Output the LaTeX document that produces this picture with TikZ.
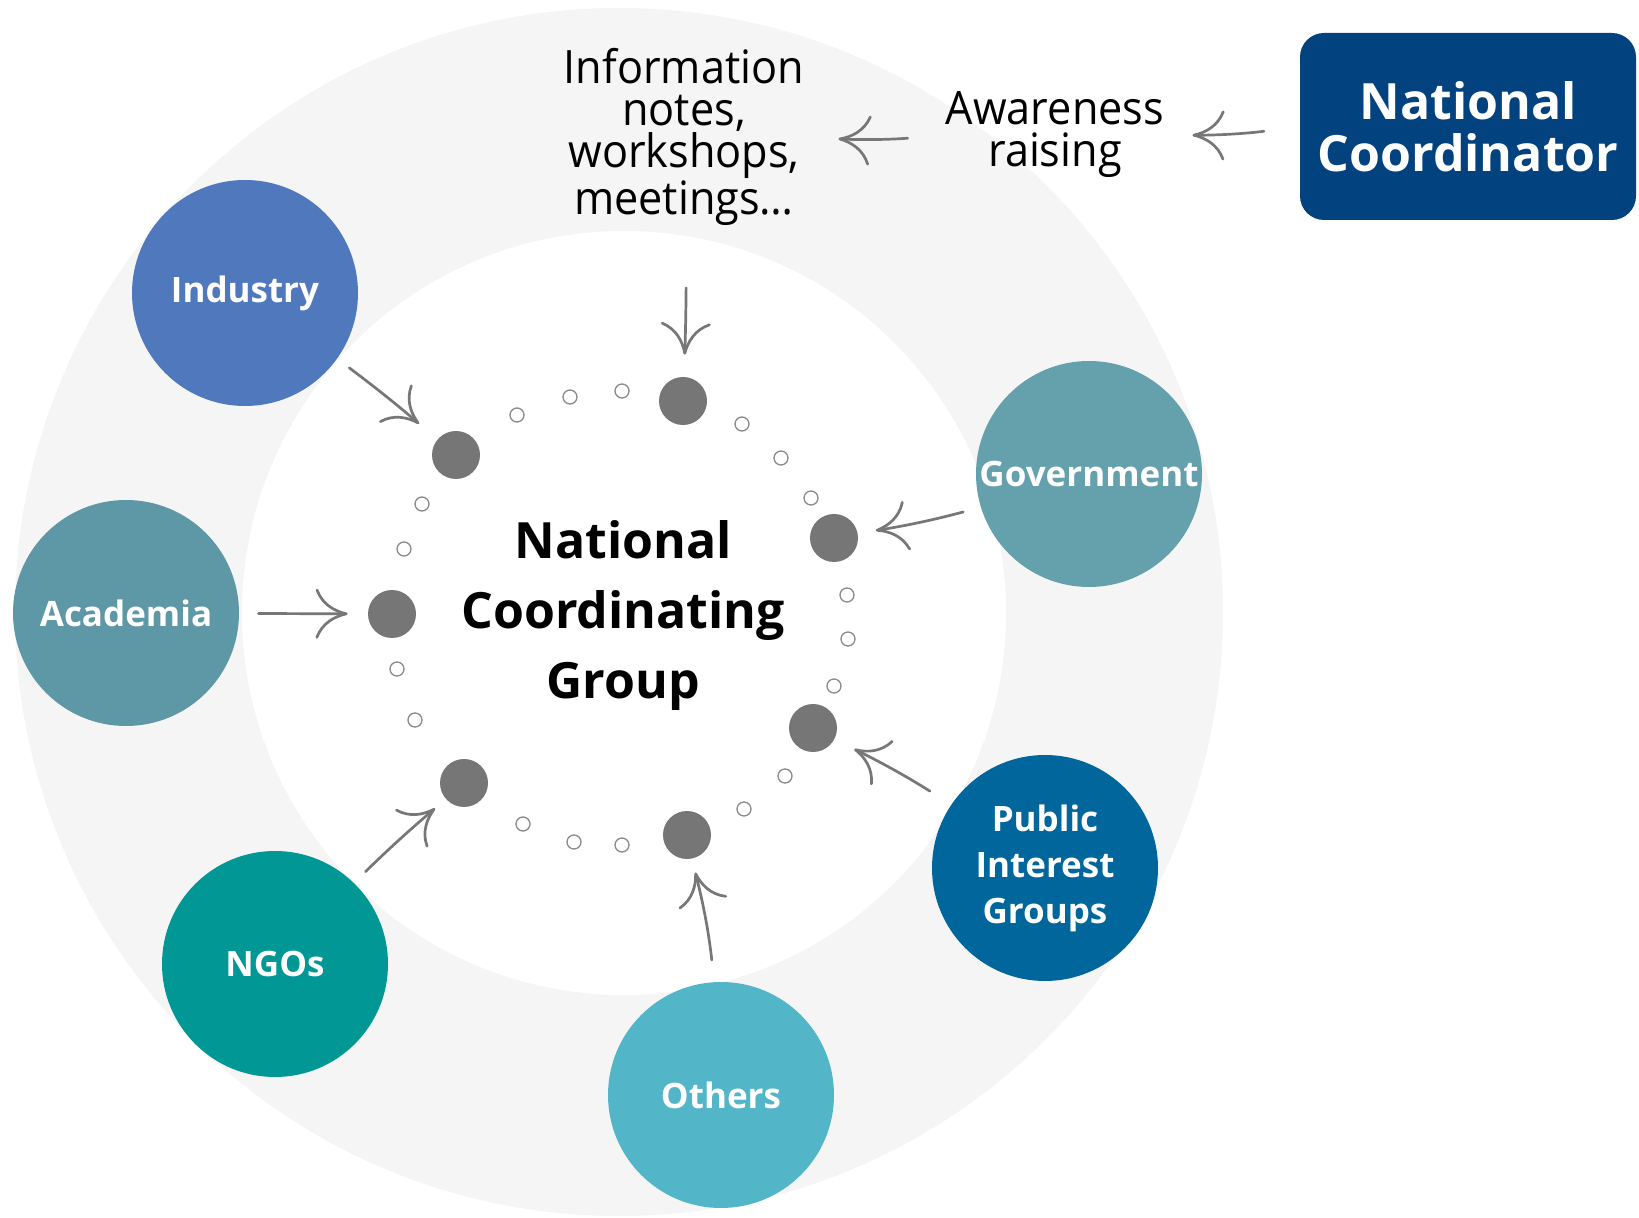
\documentclass[tikz,border=0pt]{standalone}
\usepackage{fontspec}
\setmainfont{Open Sans}
\newfontfamily\thinfont[FakeStretch=0.94]{Open Sans}
\usetikzlibrary{arrows.meta}
\definecolor{ringgray}{HTML}{F5F5F5}
\definecolor{dotgray}{HTML}{767676}
\definecolor{ringline}{HTML}{8A8A8A}
\definecolor{arrgray}{HTML}{777777}
\definecolor{cInd}{HTML}{5079BD}
\definecolor{cAca}{HTML}{5E97A5}
\definecolor{cGov}{HTML}{65A1AC}
\definecolor{cNGO}{HTML}{009794}
\definecolor{cOth}{HTML}{52B5C8}
\definecolor{cPub}{HTML}{00669B}
\definecolor{ncblue}{HTML}{02427E}
\begin{document}
\begin{tikzpicture}[x=0.5pt,y=-0.5pt,
  stake/.style={circle, minimum size=113pt, inner sep=0pt, text=white, align=center,
    font=\bfseries\fontsize{17.5}{23}\selectfont},
  bigdot/.style={circle, fill=dotgray, minimum size=24pt, inner sep=0pt},
  smallring/.style={draw=ringline, line width=0.65pt, fill=white},
  infotext/.style={align=center, inner sep=0pt, text=black,
    font=\thinfont\fontsize{23}{21}\selectfont},
  ncbox/.style={rounded corners=12pt, fill=ncblue, text=white, align=center,
    minimum width=168pt, minimum height=93.5pt, inner sep=0pt,
    font=\bfseries\fontsize{25}{26}\selectfont},
  arr/.style={draw=arrgray, line width=1.35pt, line cap=round,
    -{Computer Modern Rightarrow[length=16pt,width=25pt,line width=1.35pt]}}
]
\useasboundingbox (0,0) rectangle (1639,1218);
% rings
\fill[ringgray] (619,612) circle (302pt);
\fill[white] (624,613) circle (191pt);

% stakeholders
\node[stake, fill=cInd] (ind) at (245,293) {Industry};
\node[stake, fill=cAca] (aca) at (126,613) {Academia};
\node[stake, fill=cNGO] (ngo) at (275,964) {NGOs};
\node[stake, fill=cOth] (oth) at (721,1095) {Others};
\node[stake, fill=cPub] (pub) at (1045,868) {Public\\Interest\\Groups};
\node[stake, fill=cGov] (gov) at (1089,474) {Government};

% small rings
\foreach \p in {(517,415),(570,397),(622,391),(742,424),(781,458),(811,498),
  (422,504),(404,549),(847,595),(848,639),(834,686),(397,669),(415,720),
  (785,776),(744,809),(523,824),(574,842),(622,845)}
  \draw[smallring] \p circle (3.5pt);

% big dots
\node[bigdot] (d1) at (456,455) {};
\node[bigdot] (d2) at (683,401) {};
\node[bigdot] (d3) at (834,538) {};
\node[bigdot] (d4) at (392,614) {};
\node[bigdot] (d5) at (813,728) {};
\node[bigdot] (d6) at (464,783) {};
\node[bigdot] (d7) at (687,835) {};

% centre text
\node[align=center, inner sep=0pt, font=\bfseries\fontsize{25}{35}\selectfont] (ncg) at (623,616) {National\\Coordinating\\Group};

% top texts
\node[infotext] (info) at (684,137) {Information\\notes,\\workshops,\\meetings\ldots};
\node[infotext] (aware) at (1055,135) {Awareness\\raising};
\node[ncbox] (nc) at (1468,126.5) {National\\Coordinator};

% arrows
\draw[arr, shorten <=18pt, shorten >=14pt] (nc.west) to[bend left=4] (aware.east);
\draw[arr, shorten <=19pt, shorten >=17pt] (aware.west) to[bend left=4] (info.east);
\draw[arr, shorten <=31pt, shorten >=11pt] (info.south) to[bend left=2] (d2);
\draw[arr, shorten <=7.5pt, shorten >=12pt] (ind) to[bend left=2] (d1);
\draw[arr, shorten <=9pt, shorten >=9pt] (gov) to[bend left=3] (d3);
\draw[arr, shorten <=9.5pt, shorten >=10pt] (aca) to (d4);
\draw[arr, shorten <=12.5pt, shorten >=11pt] (pub) to[bend right=3] (d5);
\draw[arr, shorten <=11pt, shorten >=7pt] (oth) to[bend right=4] (d7);
\draw[arr, shorten <=8pt, shorten >=7pt] (ngo) to[bend left=2] (d6);
\end{tikzpicture}
\end{document}
